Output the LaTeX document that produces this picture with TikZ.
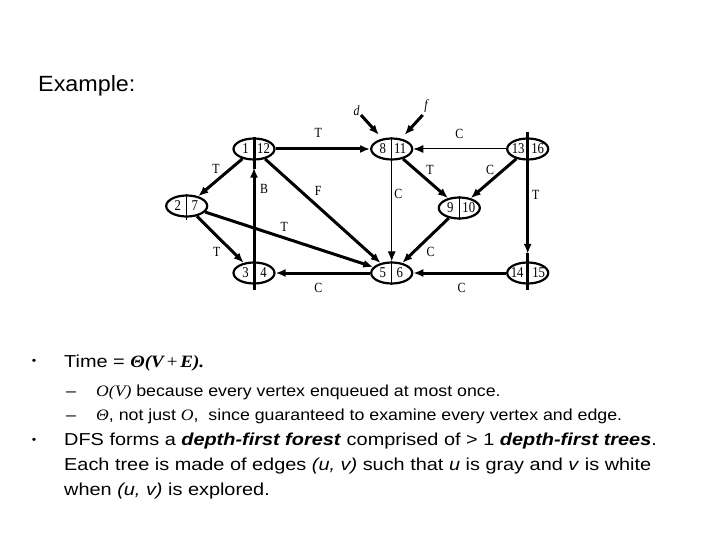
\documentclass[tikz,border=0pt]{standalone}
\usepackage{fontspec}
\setmainfont{Liberation Sans}
\newfontfamily\titlef[FakeStretch=1.06]{Liberation Sans}
\newfontfamily\bodyf[FakeStretch=1.15]{Liberation Sans}
\newfontfamily\subf[FakeStretch=1.11]{Liberation Sans}
\newfontfamily\mathf[FakeStretch=1.1]{Liberation Serif}
\newfontfamily\numf[FakeStretch=0.85]{Liberation Serif}
\usetikzlibrary{shapes.geometric,arrows.meta}
\tikzset{
  vtx/.style={draw, ellipse, line width=2.2pt, minimum width=41pt, minimum height=21pt, inner sep=0pt},
  num/.style={font=\numf\fontsize{15}{15}\selectfont, inner sep=0pt},
  elab/.style={font=\numf\fontsize{14}{14}\selectfont, inner sep=0pt},
  tk/.style={line width=3pt, -{Latex[length=10pt,width=8pt]}},
  tn/.style={line width=1pt, -{Latex[length=10pt,width=8pt]}},
  divthin/.style={line width=1pt},
  divthick/.style={line width=3pt},
  txt/.style={anchor=base west, inner sep=0pt},
  mainsz/.style={font=\bodyf\fontsize{17.3}{20}\selectfont},
  subsz/.style={font=\subf\fontsize{16}{19}\selectfont},
  bul/.style={anchor=base, inner sep=0pt, font=\bodyf\fontsize{11}{11}\selectfont},
}
\begin{document}
\begin{tikzpicture}[x=1pt,y=-1pt]
\useasboundingbox (0,0) rectangle (720,540);
% title
\node[txt, font=\titlef\fontsize{22}{24}\selectfont] (title) at (38,92) {Example:};

% vertices
\node[vtx] (v1) at (254,149) {};
\node[vtx] (v8) at (391.7,149) {};
\node[vtx] (v13) at (527.7,149) {};
\node[vtx] (v2) at (186.7,206) {};
\node[vtx] (v9) at (459.3,208) {};
\node[vtx] (v3) at (254,273) {};
\node[vtx] (v5) at (391.7,273) {};
\node[vtx] (v14) at (527.7,273) {};

% dividers
\draw[divthick, shorten <=-8pt] (v1.south) -- (v1.north);
\draw[divthin] (v8.north) -- (v8.south);
\draw[divthick, shorten <=-5pt] (v13.north) -- (v13.south);
\draw[divthin, shorten >=-2pt] (v2.north) -- (v2.south);
\draw[divthin] (v9.north) -- (v9.south);
\draw[divthick, shorten >=-5pt] (v3.north) -- (v3.south);
\draw[divthin] (v5.north) -- (v5.south);
\draw[divthick, shorten <=-8pt, shorten >=-5pt] (v14.north) -- (v14.south);

% numbers
\node[num] (n1a) at ([xshift=-8.5pt]v1.center) {1};
\node[num] (n1b) at ([xshift=9.5pt]v1.center) {12};
\node[num] (n8a) at ([xshift=-9pt]v8.center) {8};
\node[num] (n8b) at ([xshift=8.5pt]v8.center) {11};
\node[num] (n13a) at ([xshift=-9.5pt]v13.center) {13};
\node[num] (n13b) at ([xshift=10pt]v13.center) {16};
\node[num] (n2a) at ([xshift=-9pt]v2.center) {2};
\node[num] (n2b) at ([xshift=8pt]v2.center) {7};
\node[num] (n9a) at ([xshift=-9pt]v9.center) {9};
\node[num] (n9b) at ([xshift=9.5pt]v9.center) {10};
\node[num] (n3a) at ([xshift=-8.5pt]v3.center) {3};
\node[num] (n3b) at ([xshift=9.5pt]v3.center) {4};
\node[num] (n5a) at ([xshift=-9pt]v5.center) {5};
\node[num] (n5b) at ([xshift=8pt]v5.center) {6};
\node[num] (n14a) at ([xshift=-10.5pt]v14.center) {14};
\node[num] (n14b) at ([xshift=11pt]v14.center) {15};

% incoming free arrows
\coordinate (dpt) at (361,115);
\coordinate (fpt) at (422.7,115);
\node[elab, font=\numf\itshape\fontsize{14}{14}\selectfont] (dl) at (356.7,111) {d};
\node[elab, font=\numf\itshape\fontsize{14}{14}\selectfont] (fl) at (426,106) {f};
\draw[tk, shorten >=5pt] (dpt) -- (v8);
\draw[tk, shorten >=5pt] (fpt) -- (v8);

% edges
\draw[tk] (v1) -- (v8);
\draw[tn] (v13) -- (v8);
\draw[tk] (v1) -- (v2);
\draw[tk, shorten <=-5pt, shorten >=7pt] (v3.south) -- (v1.south);
\draw[tk] (v1) -- (v5);
\draw[tk] (v2) -- (v5);
\draw[tk] (v2) -- (v3);
\draw[tk] (v5) -- (v3);
\draw[tn] (v8.south) -- (v5.north);
\draw[tk] (v8) -- (v9);
\draw[tk] (v13) -- (v9);
\draw[tk] (v9) -- (v5);
\draw[tk, shorten >=7.5pt] (v13.south) -- (v14.north);
\draw[tk] (v14) -- (v5);

% edge labels
\node[elab] (l18) at (318.3,133.3) {T};
\node[elab] (l138) at (459.3,134) {C};
\node[elab] (l12) at (216,169.3) {T};
\node[elab] (l31) at (264,189.3) {B};
\node[elab] (l15) at (318.3,191) {F};
\node[elab] (l25) at (284.3,226.7) {T};
\node[elab] (l23) at (216.7,251.7) {T};
\node[elab] (l53) at (318.3,287.7) {C};
\node[elab] (l85) at (398.3,194.3) {C};
\node[elab] (l89) at (430,170) {T};
\node[elab] (l139) at (490,170) {C};
\node[elab] (l95) at (430.7,251.7) {C};
\node[elab] (l1314) at (535.7,195) {T};
\node[elab] (l145) at (461.7,287.7) {C};

% text
\node[bul] (b1) at (34,364) {•};
\node[txt, mainsz] (t1) at (64,367) {Time = {\mathf\bfseries\itshape Θ(V\,{\mdseries\upshape +}\,E).}};
\node[txt, subsz] (d1) at (66,396) {–};
\node[txt, subsz] (t2) at (96,396) {{\mathf\itshape O(V)} because every vertex enqueued at most once.};
\node[txt, subsz] (d2) at (66,420) {–};
\node[txt, subsz] (t3) at (96,420) {{\mathf\itshape Θ}, not just {\mathf\itshape O},\ \ since guaranteed to examine every vertex and edge.};
\node[bul] (b2) at (34,443) {•};
\node[txt, mainsz] (t4) at (64,445) {DFS forms a \textbf{\textit{depth-first forest}} comprised of > 1 \textbf{\textit{depth-first trees}}.};
\node[txt, mainsz] (t5) at (64,470) {Each tree is made of edges \textit{(u, v)} such that \textit{u} is gray and \textit{v} is white};
\node[txt, mainsz] (t6) at (64,495) {when \textit{(u, v)} is explored.};
\end{tikzpicture}
\end{document}
